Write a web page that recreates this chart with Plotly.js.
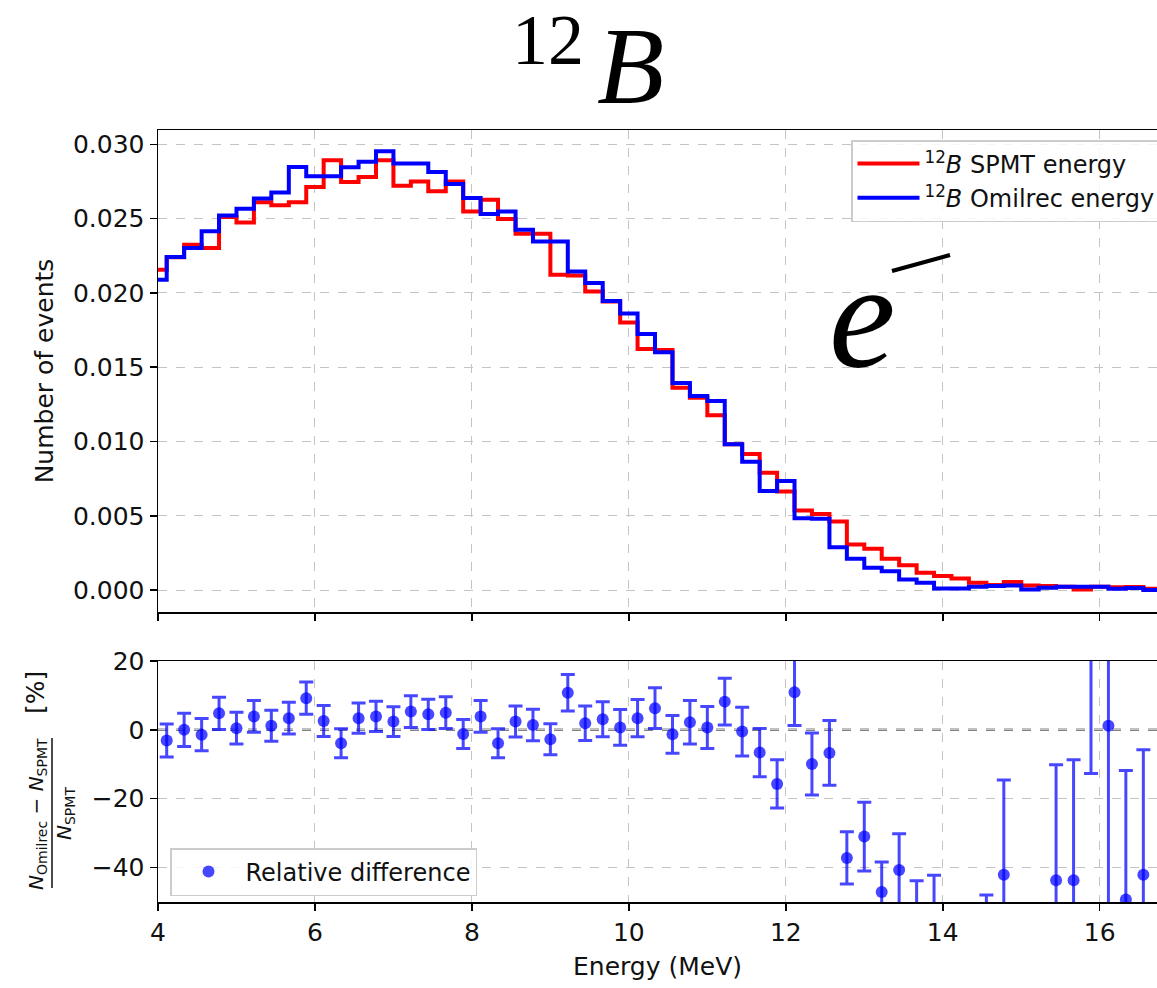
<!DOCTYPE html>
<html>
<head>
<meta charset="utf-8">
<script src="https://cdn.plot.ly/plotly-3.0.1.min.js"></script>
<style>html,body{margin:0;padding:0;background:#fff;}#chart{width:1157px;height:988px;}</style>
</head>
<body>
<div id="chart"></div>
<script>
// Bin positions (MeV) – right edges of the step intervals / points of the ratio panel
const energy = [4.111, 4.333, 4.556, 4.778, 5.0, 5.222, 5.444, 5.667, 5.889, 6.111,
  6.333, 6.556, 6.778, 7.0, 7.222, 7.444, 7.667, 7.889, 8.111, 8.333,
  8.556, 8.778, 9.0, 9.222, 9.444, 9.667, 9.889, 10.111, 10.333, 10.556,
  10.778, 11.0, 11.222, 11.444, 11.667, 11.889, 12.111, 12.333, 12.556, 12.778,
  13.0, 13.222, 13.444, 13.667, 13.889, 14.111, 14.333, 14.556, 14.778, 15.0,
  15.222, 15.444, 15.667, 15.889, 16.111, 16.333, 16.556, 16.778];
const firstEdge = 3.889;

const spmt = [0.02156, 0.0224, 0.02325, 0.02302, 0.02511, 0.02475, 0.0261, 0.0259, 0.0261, 0.02713,
  0.02893, 0.02747, 0.02781, 0.02893, 0.02722, 0.02751, 0.02684, 0.02751, 0.02549, 0.02628,
  0.02498, 0.02399, 0.02399, 0.02123, 0.02118, 0.0201, 0.01943, 0.01801, 0.01623, 0.01616,
  0.01362, 0.01295, 0.01176, 0.00982, 0.00915, 0.0079, 0.00663, 0.00536, 0.00511, 0.00462,
  0.00306, 0.00277, 0.0021, 0.00167, 0.00116, 0.00094, 0.00078, 0.00049, 0.00033, 0.00054,
  0.00031, 0.00027, 0.00022, 0.00004, 0.00022, 0.00018, 0.0002, 0.00009];

const omilrec = [0.02089, 0.02242, 0.02302, 0.02415, 0.02522, 0.02567, 0.02635, 0.02677, 0.02848, 0.02785,
  0.02785, 0.02846, 0.02884, 0.02954, 0.02871, 0.02871, 0.02815, 0.02734, 0.0264, 0.02532,
  0.02549, 0.02426, 0.02347, 0.02347, 0.02145, 0.02067, 0.01945, 0.01862, 0.01723, 0.016,
  0.01393, 0.01306, 0.01272, 0.00982, 0.00864, 0.00667, 0.00734, 0.00484, 0.0048, 0.00288,
  0.0021, 0.0015, 0.00127, 0.00071, 0.00049, 0.00011, 0.00011, 0.00022, 0.00027, 0.00031,
  0.00004, 0.00016, 0.00022, 0.00022, 0.00022, 0.00009, 0.00013, 0.0];

const relDiff = [-3.1, 0.0, -1.4, 4.8, 0.5, 3.9, 1.2, 3.4, 9.2, 2.6,
  -3.9, 3.4, 3.9, 2.4, 5.3, 4.5, 5.0, -1.2, 3.9, -3.9,
  2.4, 1.4, -2.7, 10.8, 1.9, 3.1, 0.7, 3.4, 6.3, -1.3,
  2.2, 0.7, 8.2, -0.5, -6.6, -15.7, 10.9, -9.9, -6.7, -37.2,
  -31.0, -47.1, -40.7, -57.0, -58.0, -88.0, -86.0, -55.0, -42.1, -100.0,
  -100.0, -43.7, -43.7, 26.0, 1.2, -49.3, -42.1, -100.0];

const relErr = [4.8, 4.8, 4.7, 4.7, 4.6, 4.6, 4.5, 4.6, 4.7, 4.5,
  4.2, 4.4, 4.4, 4.3, 4.6, 4.4, 4.6, 4.2, 4.6, 4.2,
  4.5, 4.6, 4.5, 5.3, 5.0, 5.1, 5.2, 5.4, 5.9, 5.5,
  6.3, 6.1, 6.8, 7.1, 7.0, 7.0, 9.6, 9.0, 9.4, 7.6,
  10.0, 8.7, 10.5, 13.2, 15.8, 10.0, 12.0, 7.0, 27.5, 20.0,
  20.0, 33.6, 35.0, 38.7, 60.0, 37.5, 36.3, 20.0];

const yTicksTop = [0, 0.005, 0.01, 0.015, 0.02, 0.025, 0.03];
const yTicksBottom = [-40, -20, 0, 20];
const xTicks = [4, 6, 8, 10, 12, 14, 16];

const stepX = [firstEdge].concat(energy);
const FONT = 'DejaVu Sans';
const W = 1157, H = 988, L = 158, T = 130, B = 86;
const plotW = W - L, plotH = H - T - B;
const px = v => (v - L) / plotW;
const py = v => (H - B - v) / plotH;

const traces = [
  {x: stepX, y: [spmt[0]].concat(spmt), type: 'scatter', mode: 'lines',
   line: {shape: 'vh', color: '#ff0000', width: 4},
   name: '<sup>12</sup><i>B</i> SPMT energy', xaxis: 'x', yaxis: 'y', legend: 'legend'},
  {x: stepX, y: [omilrec[0]].concat(omilrec), type: 'scatter', mode: 'lines',
   line: {shape: 'vh', color: '#0000ff', width: 4},
   name: '<sup>12</sup><i>B</i> Omilrec energy', xaxis: 'x', yaxis: 'y', legend: 'legend'},
  {x: energy, y: relDiff, type: 'scatter', mode: 'markers',
   marker: {color: 'rgba(0,0,255,0.72)', size: 12},
   error_y: {type: 'data', array: relErr, visible: true, color: 'rgba(0,0,255,0.72)', thickness: 3, width: 7},
   name: 'Relative difference', xaxis: 'x2', yaxis: 'y2', legend: 'legend2'}
];

const gridCommon = {showgrid: true, gridcolor: '#c4c4c4', griddash: 'dash', gridwidth: 1,
  zeroline: false, showline: true, linecolor: '#000', linewidth: 1.5,
  ticks: 'outside', ticklen: 7, tickwidth: 1.5, tickcolor: '#000',
  tickfont: {family: FONT, size: 25, color: '#111'}, automargin: false};

const layout = {
  width: W, height: H,
  margin: {l: L, r: 0, t: T, b: B, autoexpand: false},
  paper_bgcolor: '#fff', plot_bgcolor: '#fff',
  font: {family: FONT, color: '#111'},
  showlegend: true,
  xaxis: Object.assign({}, gridCommon, {domain: [0, 1], anchor: 'y', range: [4, 16.73],
    tickvals: xTicks, showticklabels: false, mirror: true}),
  yaxis: Object.assign({}, gridCommon, {domain: [py(612), 1], anchor: 'x', range: [-0.00148, 0.03097],
    tickvals: yTicksTop, tickformat: '.3f', mirror: false,
    title: {text: 'Number of events', font: {family: FONT, size: 25, color: '#111'}, standoff: 12}}),
  xaxis2: Object.assign({}, gridCommon, {domain: [0, 1], anchor: 'y2', range: [4, 16.73],
    tickvals: xTicks, mirror: true,
    title: {text: 'Energy (MeV)', font: {family: FONT, size: 25, color: '#111'}, standoff: 12}}),
  yaxis2: Object.assign({}, gridCommon, {domain: [0, py(661)], anchor: 'x2', range: [-50, 20],
    tickvals: yTicksBottom, mirror: false}),
  legend: {x: px(851), y: py(140), xanchor: 'left', yanchor: 'top',
    bgcolor: 'rgba(255,255,255,0.85)', bordercolor: '#cccccc', borderwidth: 1.5,
    font: {family: FONT, size: 24, color: '#111'}, itemwidth: 62},
  legend2: {x: px(170), y: py(848), xanchor: 'left', yanchor: 'top',
    bgcolor: 'rgba(255,255,255,0.85)', bordercolor: '#cccccc', borderwidth: 1.5,
    font: {family: FONT, size: 24, color: '#111'}, itemwidth: 64},
  shapes: [
    {type: 'line', xref: 'paper', yref: 'y2', x0: 0, x1: 1, y0: 0, y1: 0,
     line: {color: '#808080', width: 2.5, dash: 'dash'}, layer: 'below'},
    {type: 'line', xref: 'paper', yref: 'paper', x0: px(52), x1: px(52), y0: py(738), y1: py(888),
     line: {color: '#111', width: 1.5}},
    {type: 'line', xref: 'paper', yref: 'paper', x0: px(892), x1: px(950), y0: py(271), y1: py(255),
     line: {color: '#000', width: 4}}
  ],
  annotations: [
    {text: '12', xref: 'paper', yref: 'paper', x: px(548), y: py(40),
     xanchor: 'center', yanchor: 'middle', showarrow: false,
     font: {family: 'Liberation Serif', size: 72, color: '#000'}},
    {text: '<i>B</i>', xref: 'paper', yref: 'paper', x: px(630), y: py(66),
     xanchor: 'center', yanchor: 'middle', showarrow: false,
     font: {family: 'Liberation Serif', size: 110, color: '#000'}},
    {text: '<i>e</i>', xref: 'paper', yref: 'paper', x: px(862), y: py(316),
     xanchor: 'center', yanchor: 'middle', showarrow: false,
     font: {family: 'Liberation Serif', size: 150, color: '#000'}},
    {text: '<i>N</i><sub>Omilrec</sub> − <i>N</i><sub>SPMT</sub>', xref: 'paper', yref: 'paper',
     x: px(37), y: py(814), xanchor: 'center', yanchor: 'middle', textangle: -90, showarrow: false,
     font: {family: FONT, size: 20, color: '#111'}},
    {text: '<i>N</i><sub>SPMT</sub>', xref: 'paper', yref: 'paper',
     x: px(65), y: py(814), xanchor: 'center', yanchor: 'middle', textangle: -90, showarrow: false,
     font: {family: FONT, size: 20, color: '#111'}},
    {text: '[%]', xref: 'paper', yref: 'paper',
     x: px(35), y: py(693), xanchor: 'center', yanchor: 'middle', textangle: -90, showarrow: false,
     font: {family: FONT, size: 25, color: '#111'}}
  ]
};

Plotly.newPlot('chart', traces, layout, {displayModeBar: false, staticPlot: true});
</script>
</body>
</html>
